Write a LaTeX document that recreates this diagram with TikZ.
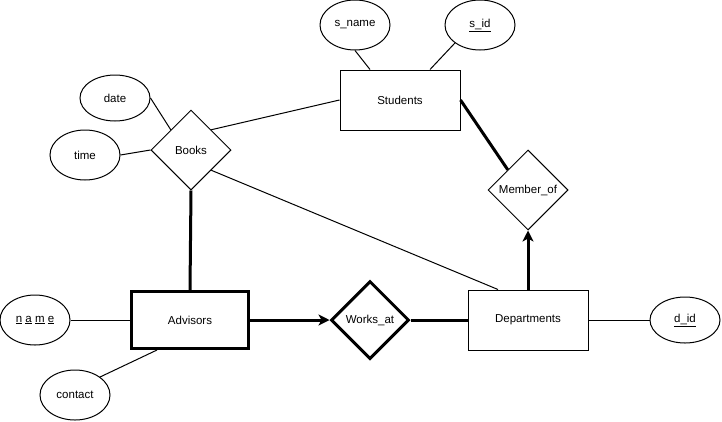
\documentclass[tikz,border=0pt]{standalone}
\usepackage{fontspec}
\setmainfont{Liberation Sans}
\usetikzlibrary{shapes.geometric,arrows.meta}
\tikzset{
  every node/.style={font=\fontsize{11.5}{14}\selectfont, inner sep=0pt},
  entity/.style={draw, line width=1pt, rectangle, minimum width=120pt, minimum height=60pt},
  strongentity/.style={draw, line width=3pt, rectangle, minimum width=117pt, minimum height=57pt},
  rel/.style={draw, line width=1pt, diamond, minimum width=80pt, minimum height=80pt},
  strongrel/.style={draw, line width=3pt, diamond, minimum width=78pt, minimum height=78pt},
  attr/.style={draw, line width=1pt, ellipse, minimum width=70pt, minimum height=50pt},
  thin/.style={line width=1pt},
  thick3/.style={line width=3pt},
  arr/.style={line width=3pt, -{Stealth[length=11pt, width=11pt, inset=3pt]}},
}
\begin{document}
\begin{tikzpicture}[x=1pt, y=-1pt]
\useasboundingbox (0,0) rectangle (722,421);
% entities
\node[entity] (Students) at (400,100) {Students};
\node[strongentity] (Advisors) at (190,320) {Advisors};
\node[entity] (Departments) at (528,320) {Departments};
% relationships
\node[rel] (Books) at (191,150) {Books};
\node[rel] (Memberof) at (528,190) {Member\_of};
\node[strongrel] (Worksat) at (370,320) {Works\_at};
% attributes
\node[attr] (sname) at (355,25) {s\_name};
\node[attr] (sid) at (480,25) {\underline{s\_id}};
\node[attr, minimum height=46pt] (date) at (115,98) {date};
\node[attr] (time) at (85,155) {time};
\node[attr] (name) at (35,320) {\underline{n} \underline{a} \underline{m} \underline{e}};
\node[attr] (contact) at (75,395) {contact};
\node[attr, minimum height=46pt] (did) at (685,320) {\underline{d\_id}};
% connectors
\draw[thin] (sname.south) -- ([xshift=-30pt]Students.north);
\draw[thin] (sid.south west) -- ([xshift=30pt]Students.north);
\draw[thin] (date.east) -- (Books.north west);
\draw[thin] (time.east) -- (Books.west);
\draw[thin] (Books.north east) -- (Students.west);
\draw[thin] (Books.south east) -- ([xshift=-30pt]Departments.north);
\draw[thick3] (Books.south) -- (Advisors.north);
\draw[thick3] (Students.east) -- (Memberof.north west);
\draw[arr] (Departments.north) -- (Memberof.south);
\draw[arr] (Advisors.east) -- (Worksat.west);
\draw[thick3] (Worksat.east) -- (Departments.west);
\draw[thin] (Departments.east) -- (did.west);
\draw[thin] (name.east) -- (Advisors.west);
\draw[thin] (contact.north east) -- ([xshift=-33pt]Advisors.south);
\end{tikzpicture}
\end{document}
